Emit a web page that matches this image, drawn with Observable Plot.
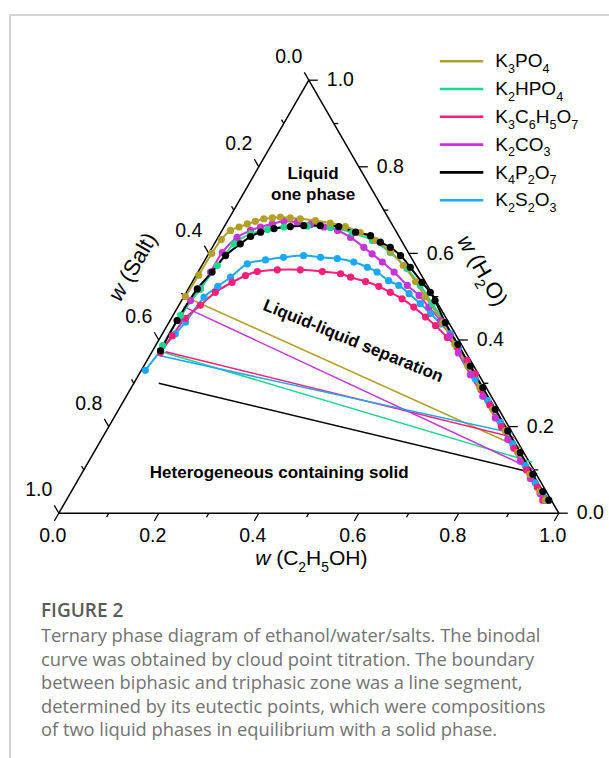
<!DOCTYPE html>
<html><head><meta charset="utf-8">
<script src="https://cdn.jsdelivr.net/npm/d3@7/dist/d3.min.js"></script>
<script src="https://cdn.jsdelivr.net/npm/@observablehq/plot@0.6/dist/plot.umd.min.js"></script>
<style>
html,body{margin:0;padding:0;background:#fff;}
body{width:609px;height:758px;position:relative;overflow:hidden;}
#frame{position:absolute;left:9px;top:14px;width:700px;height:800px;border-top:2px solid #d4d4d4;border-left:2px solid #d4d4d4;}
#chart{position:absolute;left:0;top:0;width:609px;height:580px;}
#chart svg{max-width:none !important;}
#caption{position:absolute;left:41px;top:597px;font-family:"Open Sans",sans-serif;color:#727272;font-size:18.3px;line-height:23.5px;white-space:nowrap;}
#caption .fig{font-size:19px;line-height:26px;font-weight:600;color:#5a5a5a;}
#err{position:absolute;left:20px;top:30px;color:red;font:12px monospace;white-space:pre-wrap;width:560px;}
</style>
</head>
<body>
<div id="frame"></div>
<div id="chart"></div>
<div id="caption"><div class="fig">FIGURE 2</div>Ternary phase diagram of ethanol/water/salts. The binodal<br>curve was obtained by cloud point titration. The boundary<br>between biphasic and triphasic zone was a line segment,<br>determined by its eutectic points, which were compositions<br>of two liquid phases in equilibrium with a solid phase.</div>
<div id="err"></div>
<script>
// ---- data (mass fractions; salt = 1 - ethanol - water) ----
const salts = ["K3PO4","K2HPO4","K3C6H5O7","K2CO3","K4P2O7","K2S2O3"];
const saltColors = ["#b3a02a","#1fd68f","#ff1f7a","#c634d6","#000000","#1ba8f8"];

const ethanol_K3PO4 = [0.003,0.005,0.006,0.009,0.017,0.030,0.043,0.056,0.070,0.086,0.101,0.122,0.143,0.175,0.208,0.242,0.279,0.318,0.361,0.403,0.446,0.483,0.548,0.597,0.648,0.697,0.748,0.798,0.848,0.897,0.937,0.958];
const water_K3PO4   = [0.500,0.550,0.600,0.632,0.653,0.661,0.668,0.674,0.680,0.682,0.684,0.682,0.680,0.676,0.670,0.662,0.648,0.630,0.604,0.572,0.535,0.500,0.440,0.390,0.340,0.290,0.240,0.190,0.140,0.090,0.050,0.030];

const ethanol_K2HPO4 = [0.014,0.015,0.024,0.031,0.039,0.061,0.090,0.120,0.166,0.213,0.263,0.312,0.362,0.414,0.460,0.505,0.552,0.602,0.652,0.702,0.752,0.802,0.852,0.902,0.942,0.962];
const water_K2HPO4   = [0.387,0.457,0.518,0.572,0.622,0.645,0.655,0.661,0.663,0.660,0.648,0.630,0.602,0.565,0.526,0.484,0.440,0.390,0.340,0.290,0.240,0.190,0.140,0.090,0.050,0.030];

const ethanol_K3C6H5O7 = [0.018,0.022,0.028,0.043,0.058,0.080,0.099,0.118,0.156,0.202,0.248,0.287,0.311,0.346,0.378,0.408,0.439,0.472,0.507,0.537,0.574,0.605,0.640,0.672,0.702,0.737,0.785,0.835,0.885,0.927,0.953];
const water_K3C6H5O7   = [0.371,0.410,0.450,0.480,0.510,0.533,0.549,0.558,0.562,0.562,0.558,0.553,0.545,0.535,0.524,0.510,0.495,0.476,0.453,0.433,0.406,0.383,0.353,0.322,0.285,0.250,0.200,0.150,0.100,0.060,0.030];

const ethanol_K2CO3 = [0.017,0.018,0.024,0.025,0.026,0.038,0.057,0.073,0.093,0.113,0.141,0.170,0.200,0.231,0.265,0.303,0.327,0.357,0.392,0.434,0.469,0.502,0.541,0.577,0.614,0.663,0.713,0.763,0.813,0.863,0.903,0.940,0.958];
const water_K2CO3   = [0.445,0.491,0.518,0.557,0.602,0.637,0.653,0.661,0.668,0.674,0.672,0.667,0.661,0.653,0.637,0.614,0.599,0.580,0.557,0.526,0.503,0.476,0.445,0.410,0.370,0.320,0.270,0.220,0.170,0.120,0.080,0.045,0.030];

const ethanol_K4P2O7 = [0.016,0.014,0.018,0.028,0.036,0.052,0.064,0.079,0.102,0.132,0.158,0.191,0.229,0.269,0.303,0.330,0.356,0.386,0.419,0.460,0.488,0.507,0.553,0.603,0.653,0.703,0.753,0.803,0.853,0.903,0.943,0.965];
const water_K4P2O7   = [0.375,0.445,0.518,0.557,0.595,0.622,0.639,0.649,0.657,0.662,0.664,0.664,0.662,0.649,0.641,0.626,0.614,0.595,0.568,0.533,0.510,0.491,0.440,0.390,0.340,0.290,0.240,0.190,0.140,0.090,0.050,0.030];

const ethanol_K2S2O3 = [0.008,0.016,0.026,0.033,0.041,0.056,0.071,0.089,0.121,0.154,0.192,0.228,0.263,0.300,0.333,0.358,0.391,0.417,0.447,0.481,0.513,0.545,0.576,0.608,0.640,0.678,0.728,0.778,0.828,0.878,0.918,0.948];
const water_K2S2O3   = [0.330,0.375,0.414,0.441,0.499,0.524,0.545,0.576,0.585,0.591,0.595,0.591,0.588,0.580,0.568,0.557,0.537,0.526,0.507,0.484,0.461,0.437,0.414,0.383,0.350,0.310,0.260,0.210,0.160,0.110,0.070,0.040];

// tie lines (eutectic points), same order as salts
const tieEthanolLeft  = [0.003,0.015,0.027,0.011,0.050,0.018];
const tieWaterLeft    = [0.500,0.374,0.373,0.477,0.300,0.364];
const tieEthanolRight = [0.848,0.888,0.826,0.900,0.911,0.815];
const tieWaterRight   = [0.151,0.118,0.174,0.100,0.091,0.185];

const tickValues = [0,0.1,0.2,0.3,0.4,0.5,0.6,0.7,0.8,0.9,1.0];
const labelValues = [0,0.2,0.4,0.6,0.8,1.0];
const labelTexts = ["0.0","0.2","0.4","0.6","0.8","1.0"];

try {
// ---- build tables ----
const S3 = Math.sqrt(3)/2;
const tx = (e,w) => e + w/2;
const ty = (e,w) => w*S3;
const series = {
  K3PO4:[ethanol_K3PO4,water_K3PO4], K2HPO4:[ethanol_K2HPO4,water_K2HPO4],
  K3C6H5O7:[ethanol_K3C6H5O7,water_K3C6H5O7], K2CO3:[ethanol_K2CO3,water_K2CO3],
  K4P2O7:[ethanol_K4P2O7,water_K4P2O7], K2S2O3:[ethanol_K2S2O3,water_K2S2O3]
};
const drawOrder = ["K2S2O3","K3C6H5O7","K2CO3","K2HPO4","K3PO4","K4P2O7"];
const binodal = [];
drawOrder.forEach(s => { const [E,W] = series[s]; E.forEach((e,j) => binodal.push({salt:s, e, w:W[j]})); });
const ties = salts.map((s,i) => ({salt:s, e1:tieEthanolLeft[i], w1:tieWaterLeft[i], e2:tieEthanolRight[i], w2:tieWaterRight[i]}));

const triangle = [{e:0,w:0},{e:1,w:0},{e:0,w:1},{e:0,w:0}];
const tickRows = [];
tickValues.forEach((t,i) => {
  const L = (i%2===0) ? 0.018 : 0.009;
  let x = tx(t,0), y = ty(t,0);
  tickRows.push({x1:x, y1:y, x2:x-0.5*L, y2:y-S3*L});
  x = tx(0,1-t); y = ty(0,1-t);
  tickRows.push({x1:x, y1:y, x2:x-0.5*L, y2:y+S3*L});
  x = tx(1-t,t); y = ty(1-t,t);
  tickRows.push({x1:x, y1:y, x2:x+L, y2:y});
});
const bottomLabels = labelValues.map((t,i)=>({x:tx(t,0), y:ty(t,0), label:labelTexts[i]}));
const leftLabels   = labelValues.map((t,i)=>({x:tx(0,1-t), y:ty(0,1-t), label:labelTexts[i]}));
const rightLabels  = labelValues.map((t,i)=>({x:tx(1-t,t), y:ty(1-t,t), label:labelTexts[i]}));
const legendRows = salts.map((s,i)=>({salt:s, x1:0.762, x2:0.849, y:0.904-0.0556*i}));
const notes = [
  {text:"Liquid\none phase", x:0.5086, y:0.661, rotate:0},
  {text:"Liquid-liquid separation", x:0.590, y:0.347, rotate:22.3},
  {text:"Heterogeneous containing solid", x:0.4408, y:0.084, rotate:0}
];
const titles = [
  {text:"w (C2H5OH)", x:0.505, y:-0.0906, rotate:0, size:21},
  {text:"w (Salt)", x:0.148, y:0.4924, rotate:-60, size:22},
  {text:"w (H2O)", x:0.847, y:0.485, rotate:60, size:22}
];

const FONT = "'Liberation Sans', Arial, sans-serif";
const plot = Plot.plot({
  width: 609, height: 580, margin: 0,
  x: {domain:[0,1], range:[58.3,558.3], axis:null},
  y: {domain:[0,S3], range:[512.7,79.7], axis:null},
  color: {domain:salts, range:saltColors},
  style: {fontFamily: FONT, background:"transparent", overflow:"visible", color:"#000"},
  marks: [
    Plot.line(triangle, {x:d=>tx(d.e,d.w), y:d=>ty(d.e,d.w), stroke:"#000", strokeWidth:1.5}),
    Plot.link(tickRows, {x1:"x1", y1:"y1", x2:"x2", y2:"y2", stroke:"#000", strokeWidth:1.3}),
    Plot.text(bottomLabels, {x:"x", y:"y", text:"label", dx:-6, dy:23, fontSize:19.5, fill:"#000"}),
    Plot.text(leftLabels, {x:"x", y:"y", text:"label", dx:-20, dy:-23, fontSize:19.5, fill:"#000"}),
    Plot.text(rightLabels, {x:"x", y:"y", text:"label", dx:18, dy:0, textAnchor:"start", fontSize:19.5, fill:"#000"}),
    Plot.link(ties, {x1:d=>tx(d.e1,d.w1), y1:d=>ty(d.e1,d.w1), x2:d=>tx(d.e2,d.w2), y2:d=>ty(d.e2,d.w2), stroke:"salt", strokeWidth:1.5}),
    Plot.line(binodal, {x:d=>tx(d.e,d.w), y:d=>ty(d.e,d.w), z:"salt", stroke:"salt", curve:"catmull-rom", strokeWidth:2}),
    Plot.dot(binodal, {x:d=>tx(d.e,d.w), y:d=>ty(d.e,d.w), fill:"salt", r:3.6}),
    Plot.link(legendRows, {x1:"x1", x2:"x2", y1:"y", y2:"y", stroke:"salt", strokeWidth:2.6}),
    Plot.text(legendRows, {x:"x2", y:"y", text:"salt", dx:12, textAnchor:"start", fontSize:19, fill:"#000"}),
    Plot.text(notes, {x:"x", y:"y", text:"text", rotate:"rotate", fontSize:17, fontWeight:"bold", lineHeight:1.24, fill:"#000"}),
    Plot.text(titles, {x:"x", y:"y", text:"text", rotate:"rotate", fontSize:"size", fill:"#000"})
  ]
});
plot.style.position = "absolute"; plot.style.left = "0"; plot.style.top = "0";
plot.style.maxWidth = "none"; plot.style.width = "609px"; plot.style.height = "580px";
document.getElementById("chart").appendChild(plot);

// rich text: italic w and subscript digits
const NS = "http://www.w3.org/2000/svg";
function getFS(el){ let n = el; while(n && n.getAttribute){ const f = n.getAttribute("font-size"); if(f) return parseFloat(f); n = n.parentNode; } return 19; }
function richify(el, str){
  const fs = getFS(el);
  while(el.firstChild) el.removeChild(el.firstChild);
  let rest = str;
  if (/^w /.test(rest)) {
    const t = document.createElementNS(NS,"tspan"); t.setAttribute("font-style","italic"); t.textContent = "w"; el.appendChild(t);
    rest = rest.slice(1);
  }
  const parts = rest.match(/\d+|[^\d]+/g);
  let sub = false;
  parts.forEach(p => {
    const t = document.createElementNS(NS,"tspan");
    if (/^\d+$/.test(p)) {
      t.setAttribute("font-size", (fs*0.66)+"px");
      t.setAttribute("dy", (fs*0.3)+"px");
      sub = true;
    } else if (sub) {
      t.setAttribute("dy", (-fs*0.3)+"px");
      sub = false;
    }
    t.textContent = p;
    el.appendChild(t);
  });
}
plot.querySelectorAll("text").forEach(el => {
  const s = el.textContent;
  if (/^K\d/.test(s) || /^w \(/.test(s)) richify(el, s);
});
} catch (err) {
  document.getElementById("err").textContent = String(err && err.stack || err) + "\nPlot=" + typeof Plot + " d3=" + typeof d3;
}
</script>
</body></html>
